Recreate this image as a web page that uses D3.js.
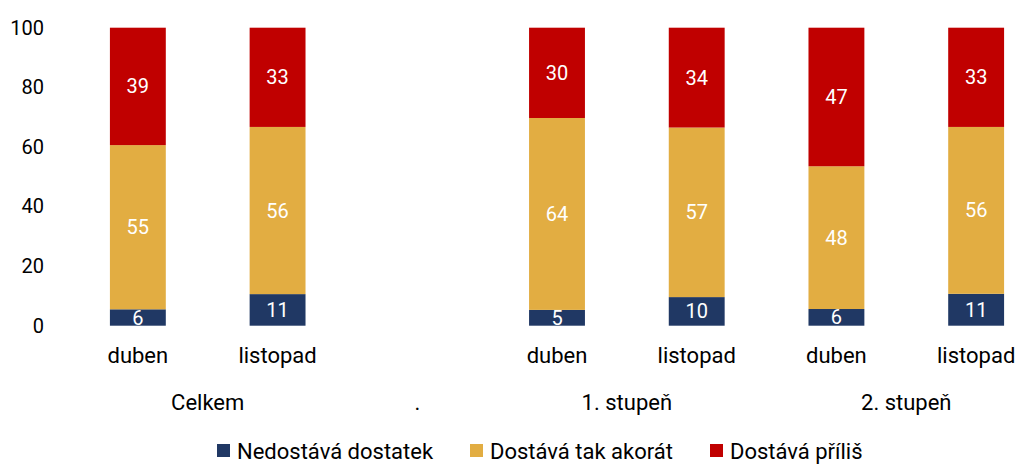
<!DOCTYPE html>
<html><head><meta charset="utf-8">
<script src="https://cdn.jsdelivr.net/npm/d3@7"></script>
<style>
body{margin:0;background:#fff;}
svg{font-family:"Roboto","Noto Sans",sans-serif;}
</style></head>
<body><svg id="c" width="1018" height="464"></svg>
<script>
const months = ["duben","listopad","","duben","listopad","duben","listopad"];
const groupLabels = ["Celkem",".","1. stupeň","2. stupeň"];
const groupSlots = [[0,1],[2,2],[3,4],[5,6]];
const seriesNames = ["Nedostává dostatek","Dostává tak akorát","Dostává příliš"];
const nedostava = [5.5, 10.6, null, 5.3, 9.6, 5.6, 10.7];
const takAkorat = [55.1, 56.1, null, 64.4, 56.9, 47.9, 56.0];
const prilis    = [39.4, 33.3, null, 30.3, 33.5, 46.5, 33.3];
const yTicks = [0,20,40,60,80,100];
const colors = ["#203864","#E2AD42","#C00000"];

const svg = d3.select("#c");
const fs = 20, fw = 22;
const x = d3.scaleBand().domain(d3.range(months.length)).range([68,1046]).paddingInner(0.6).paddingOuter(0.3);
const y = d3.scaleLinear().domain([0,100]).range([325.7,27.7]);

const ya = svg.append("g").attr("transform","translate(52,0)")
  .call(d3.axisLeft(y).tickValues(yTicks).tickSize(0).tickPadding(8));
ya.select(".domain").remove();
ya.selectAll("text").attr("font-size",fs).attr("font-family","Roboto").attr("fill","#000");

const series = [nedostava, takAkorat, prilis];
const rows = months.map((m,i)=>({i, s0:series[0][i], s1:series[1][i], s2:series[2][i]}));
const stack = d3.stack().keys(["s0","s1","s2"]).value((d,k)=>d[k]||0);
const stacked = stack(rows);

stacked.forEach((layer,li)=>{
  const g = svg.append("g");
  layer.forEach(seg=>{
    const i = seg.data.i;
    const v = series[li][i];
    if (v==null) return;
    g.append("rect").attr("x",x(i)).attr("width",x.bandwidth())
      .attr("y",y(seg[1])).attr("height",y(seg[0])-y(seg[1]))
      .attr("fill",colors[li]);
    g.append("text").attr("x",x(i)+x.bandwidth()/2).attr("y",(y(seg[0])+y(seg[1]))/2)
      .attr("text-anchor","middle").attr("dominant-baseline","central")
      .attr("font-size",fs).attr("fill","#fff").text(Math.round(v));
  });
});

months.forEach((m,i)=>{
  if(!m) return;
  svg.append("text").attr("x",x(i)+x.bandwidth()/2).attr("y",355)
    .attr("text-anchor","middle").attr("dominant-baseline","central")
    .attr("font-size",fw).attr("fill","#000").text(m);
});
groupLabels.forEach((g,gi)=>{
  const [a,b] = groupSlots[gi];
  const cx = (x(a)+x(b)+x.bandwidth())/2;
  svg.append("text").attr("x",cx).attr("y",402)
    .attr("text-anchor","middle").attr("dominant-baseline","central")
    .attr("font-size",fw).attr("fill","#000").text(g);
});

const legX = [217, 470, 710];
seriesNames.forEach((n,i)=>{
  svg.append("rect").attr("x",legX[i]).attr("y",444).attr("width",13).attr("height",13).attr("fill",colors[i]);
  svg.append("text").attr("x",legX[i]+20).attr("y",451).attr("dominant-baseline","central")
    .attr("font-size",fw).attr("fill","#000").text(n);
});
</script></body></html>
